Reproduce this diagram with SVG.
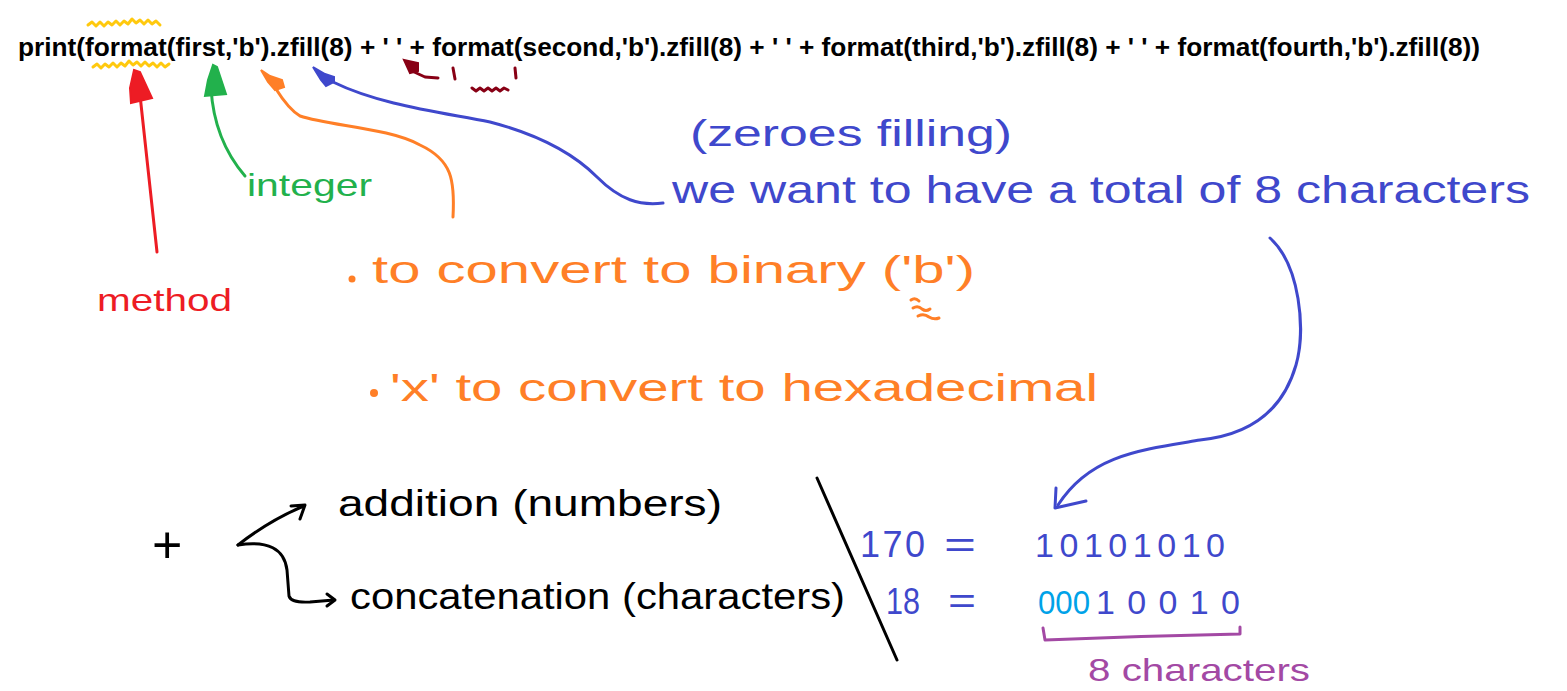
<svg xmlns="http://www.w3.org/2000/svg" width="1567" height="691" viewBox="0 0 1567 691">
<style>
.code{font-family:"Liberation Sans",Arial,sans-serif;font-weight:bold;font-size:25px;fill:#000}
.hw{font-family:"Liberation Sans",Arial,sans-serif}
.red{fill:#ED1C24}.green{fill:#22B14C}.orange{fill:#FF7F27}.blue{fill:#3F48CC}.black{fill:#000}.cyan{fill:#00A2E8}.purple{fill:#A349A4}
.ln{fill:none;stroke-width:3;stroke-linecap:round;stroke-linejoin:round}
</style>
<rect width="1567" height="691" fill="#fff"/>
<g id="code">
<text class="code" x="18" y="56" textLength="1462" lengthAdjust="spacingAndGlyphs">print(format(first,'b').zfill(8) + ' ' + format(second,'b').zfill(8) + ' ' + format(third,'b').zfill(8) + ' ' + format(fourth,'b').zfill(8))</text>
</g>
<g id="highlights">
<path class="ln" stroke="#FFC90E" stroke-width="2.5" d="M88,25 l4,-3 4,4 4,-4 4,4 4,-4 4,3 4,-4 4,4 4,-4 4,3 4,-5 4,4 4,-3 4,4 4,-4 4,4 4,-3 4,4"/>
<path class="ln" stroke="#FFC90E" stroke-width="2.5" d="M93,67 l4,-3 4,4 4,-4 4,3 4,-4 4,4 4,-4 4,3 4,-5 4,4 4,-3 4,4 4,-4 4,4 4,-3 4,4 4,-4 4,4 4,-3"/>
<g id="space-marks" fill="#880015" stroke="#880015">
<path d="M404,60 L418,63 L418,71 L410,73 Z" stroke-width="2"/>
<path class="ln" d="M412,71 L425,77 L438,78"/>
<path class="ln" d="M453,68 L455,79"/>
<path class="ln" d="M515,68 L516,78"/>
<path class="ln" d="M472,88 l4,3 4,-3 4,3 4,-3 4,3 4,-3 4,3 4,-3 4,2"/>
</g>
</g>
<g id="connectors">
<path class="ln" stroke="#ED1C24" d="M157,252 L140,95"/>
<path fill="#ED1C24" stroke="#ED1C24" stroke-width="2" d="M134,70 L140,72 L152,98 L131,103 L130,88 Z"/>
<path class="ln" stroke="#22B14C" d="M245,176 Q214,140 211,88"/>
<path fill="#22B14C" stroke="#22B14C" stroke-width="2" d="M213,65 L217,67 L226,94 L205,96 L208,80 Z"/>
<path class="ln" stroke="#FF7F27" stroke-width="2.5" d="M453,217 C455,180 452,160 420,145 C390,128 330,126 300,116 C290,110 281,97 276,89"/>
<path fill="#FF7F27" stroke="#FF7F27" stroke-width="2" d="M261,70 L270,76 L282,80 L284,87 L275,90 L268,82 Z"/>
<path class="ln" stroke="#3F48CC" stroke-width="2.5" d="M663,203 C640,206 620,200 597,177 C575,155 540,135 490,122 C440,112 380,105 333,82"/>
<path fill="#3F48CC" stroke="#3F48CC" stroke-width="2" d="M313,67 L325,74 L334,77 L334,82 L326,86 L321,80 Z"/>
<path class="ln" stroke="#3F48CC" stroke-width="3.5" d="M1270,238 C1300,265 1306,330 1296,365 C1283,410 1250,435 1200,440 C1140,450 1090,455 1058,505"/>
<path class="ln" stroke="#3F48CC" stroke-width="3.5" d="M1056,488 L1055,508 L1086,501"/>
<path class="ln" stroke="#000" d="M238,545 Q270,520 304,506"/>
<path class="ln" stroke="#000" d="M291,506 L305,505 L300,519"/>
<path class="ln" stroke="#000" stroke-width="2.5" d="M238,545 Q283,538 287,570 L289,596 Q291,603 310,602 L334,600"/>
<path class="ln" stroke="#000" stroke-width="2.5" d="M327,594 L335,600 L327,606"/>
<path class="ln" stroke="#000" stroke-width="2.5" d="M817,478 L897,660"/>
<path class="ln" stroke="#A349A4" d="M1043,628 L1045,640 Q1140,636 1240,634 L1240,627"/>
</g>
<g id="labels">
<text class="hw red" x="97" y="311" font-size="32" textLength="135" lengthAdjust="spacingAndGlyphs">method</text>
<text class="hw green" x="247" y="196" font-size="32" textLength="125" lengthAdjust="spacingAndGlyphs">integer</text>
<circle cx="352" cy="279" r="3.5" fill="#FF7F27"/>
<text class="hw orange" x="372" y="283" font-size="38" textLength="603" lengthAdjust="spacingAndGlyphs">to convert to binary ('b')</text>
<path class="ln" stroke="#FF7F27" stroke-width="2" d="M911,300 q4,-3 8,1 M913,308 q5,-3 9,1 q4,3 8,0 M918,316 q6,-3 11,1 q5,3 10,1"/>
<circle cx="374" cy="393" r="4" fill="#FF7F27"/>
<text class="hw orange" x="390" y="401" font-size="38" textLength="708" lengthAdjust="spacingAndGlyphs">'x' to convert to hexadecimal</text>
<text class="hw blue" x="690" y="146" font-size="36" textLength="322" lengthAdjust="spacingAndGlyphs">(zeroes filling)</text>
<text class="hw blue" x="672" y="203" font-size="38" textLength="858" lengthAdjust="spacingAndGlyphs">we want to have a total of 8 characters</text>
<text class="hw black" x="152" y="563" font-size="52">+</text>
<text class="hw black" x="338" y="516" font-size="36" textLength="384" lengthAdjust="spacingAndGlyphs">addition (numbers)</text>
<text class="hw black" x="350" y="609" font-size="36" textLength="495" lengthAdjust="spacingAndGlyphs">concatenation (characters)</text>
<text class="hw blue" x="860" y="557" font-size="36" textLength="65" lengthAdjust="spacing">170</text>
<text class="hw blue" x="944" y="557" font-size="36" textLength="32" lengthAdjust="spacingAndGlyphs">=</text>
<text class="hw blue" x="1035" y="557" font-size="34" textLength="190" lengthAdjust="spacing">10101010</text>
<text class="hw blue" x="886" y="614" font-size="36" textLength="34" lengthAdjust="spacingAndGlyphs">18</text>
<text class="hw blue" x="948" y="613" font-size="36" textLength="28" lengthAdjust="spacingAndGlyphs">=</text>
<text class="hw cyan" x="1038" y="614" font-size="34" textLength="52" lengthAdjust="spacingAndGlyphs">000</text>
<text class="hw blue" x="1096" y="614" font-size="34" textLength="144" lengthAdjust="spacing">10010</text>
<text class="hw purple" x="1088" y="681" font-size="32" textLength="222" lengthAdjust="spacingAndGlyphs">8 characters</text>
</g>
</svg>
